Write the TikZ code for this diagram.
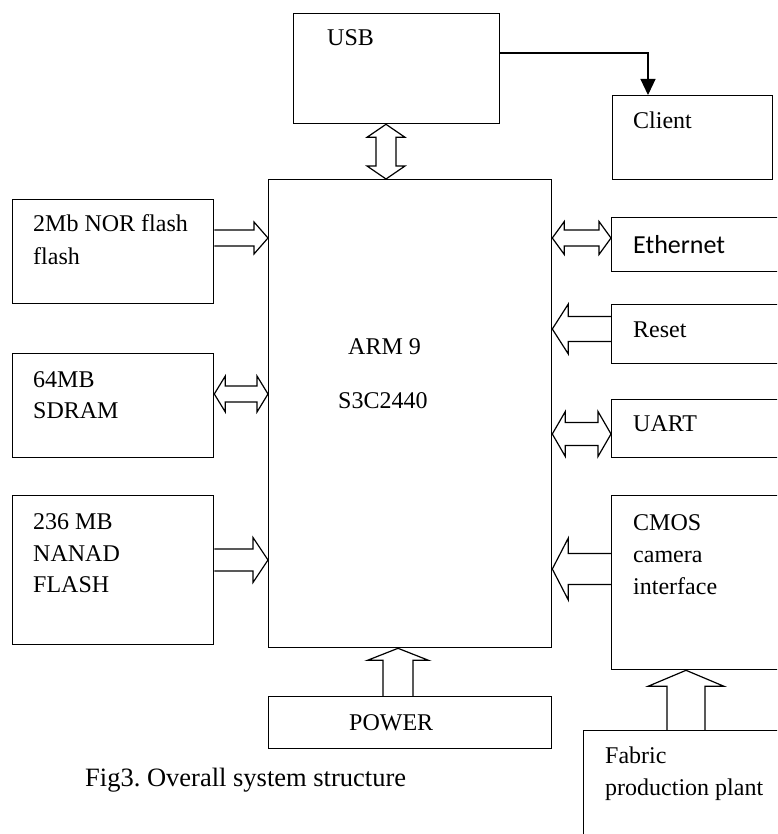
\documentclass[tikz,border=0pt]{standalone}
\usepackage{fontspec}
\setmainfont{Liberation Serif}
\newfontfamily\calib{Carlito}
\usetikzlibrary{calc,arrows.meta}
\frenchspacing
\tikzset{
  box/.style={draw, line width=1.3pt, inner sep=0pt, anchor=north west},
  txt/.style={anchor=base west, inner sep=0pt, font=\fontsize{24}{32}\selectfont},
  blk/.style={draw, line width=1.2pt, line join=miter},
  conn/.style={draw, line width=1.2pt}
}
\newcommand\blkone[5]{%
  \coordinate (hB) at ($(#2)!#5!(#1)$);
  \draw[blk] ($(#1)!#3!90:(#2)$) -- ($(hB)!#3!90:(#2)$) -- ($(hB)!#4!90:(#2)$) -- (#2) -- ($(hB)!#4!-90:(#2)$) -- ($(hB)!#3!-90:(#2)$) -- ($(#1)!#3!-90:(#2)$);
}
\newcommand\blktwo[5]{%
  \coordinate (hA) at ($(#1)!#5!(#2)$);
  \coordinate (hB) at ($(#2)!#5!(#1)$);
  \draw[blk] (#1) -- ($(hA)!#4!90:(#2)$) -- ($(hA)!#3!90:(#2)$) -- ($(hB)!#3!-90:(#1)$) -- ($(hB)!#4!-90:(#1)$) -- (#2) -- ($(hB)!#4!90:(#1)$) -- ($(hB)!#3!90:(#1)$) -- ($(hA)!#3!-90:(#2)$) -- ($(hA)!#4!-90:(#2)$) -- cycle;
}
\begin{document}
\begin{tikzpicture}[x=1pt,y=-1pt]
\clip (0,0) rectangle (777,834);
\fill[white] (0,0) rectangle (777,834);
% boxes
\node[box, minimum width=206pt, minimum height=110pt] (usb) at (293,13) {};
\node[box, minimum width=160pt, minimum height=84pt] (client) at (612,95) {};
\node[box, minimum width=283pt, minimum height=468pt] (arm) at (268,179) {};
\node[box, minimum width=201pt, minimum height=104pt] (nor) at (12,199) {};
\node[box, minimum width=201pt, minimum height=104pt] (sdram) at (12,353) {};
\node[box, minimum width=201pt, minimum height=149pt] (nand) at (12,495) {};
\node[box, minimum width=200pt, minimum height=54pt] (eth) at (611,217) {};
\node[box, minimum width=200pt, minimum height=59pt] (reset) at (611,304) {};
\node[box, minimum width=200pt, minimum height=58pt] (uart) at (611,399) {};
\node[box, minimum width=200pt, minimum height=174pt] (cmos) at (611,495) {};
\node[box, minimum width=220pt, minimum height=130pt] (fabric) at (583,730) {};
\node[box, minimum width=283pt, minimum height=52pt] (power) at (268,696) {};
% texts
\node[txt] (tusb) at (327,46) {USB};
\node[txt] (tclient) at (633,129) {Client};
\node[txt] (tnor1) at (33,232) {2Mb NOR flash};
\node[txt] (tnor2) at (33,264) {flash};
\node[txt] (tsd1) at (33,387) {64MB};
\node[txt] (tsd2) at (33,418) {SDRAM};
\node[txt] (tna1) at (33,529) {236 MB};
\node[txt] (tna2) at (33,561) {NANAD};
\node[txt] (tna3) at (33,592) {FLASH};
\node[txt] (tarm1) at (348,354) {ARM 9};
\node[txt] (tarm2) at (338,408) {S3C2440};
\node[txt, font=\calib\fontsize{26}{32}\selectfont] (teth) at (633,253) {Ethernet};
\node[txt] (treset) at (633,337) {Reset};
\node[txt] (tuart) at (633,431) {UART};
\node[txt] (tcm1) at (633,530) {CMOS};
\node[txt] (tcm2) at (633,562) {camera};
\node[txt] (tcm3) at (633,594) {interface};
\node[txt] (tfa1) at (605,763) {Fabric};
\node[txt] (tfa2) at (605,795) {production plant};
\node[txt] (tpow) at (349,730) {POWER};
\node[txt, font=\fontsize{26.5}{32}\selectfont] (cap) at (85,786) {Fig3. Overall system structure};
% USB -> Client connector
\coordinate (c1) at (usb.east |- 0,53);
\draw[conn, -{Triangle[width=15pt,length=16pt]}] (c1) -| (client.north -| 648,0);
% block arrows
\coordinate (a1) at (usb.south -| 386,0);
\coordinate (b1) at (arm.north -| 386,0);
\blktwo{a1}{b1}{10pt}{19pt}{13pt}
\coordinate (a2) at (nor.east |- 0,238);
\coordinate (b2) at (arm.west |- 0,238);
\blkone{a2}{b2}{8pt}{16pt}{14pt}
\coordinate (a3) at (sdram.east |- 0,394);
\coordinate (b3) at (arm.west |- 0,394);
\blktwo{a3}{b3}{8pt}{18pt}{11pt}
\coordinate (a4) at (nand.east |- 0,560);
\coordinate (b4) at (arm.west |- 0,560);
\blkone{a4}{b4}{11pt}{22.5pt}{15pt}
\coordinate (a5) at (eth.west |- 0,238);
\coordinate (b5) at (arm.east |- 0,238);
\blktwo{a5}{b5}{8pt}{16.5pt}{12pt}
\coordinate (a6) at (reset.west |- 0,329);
\coordinate (b6) at (arm.east |- 0,329);
\blkone{a6}{b6}{12.5pt}{25pt}{16pt}
\coordinate (a7) at (uart.west |- 0,434);
\coordinate (b7) at (arm.east |- 0,434);
\blktwo{a7}{b7}{11.5pt}{22.5pt}{13pt}
\coordinate (a8) at (cmos.west |- 0,569);
\coordinate (b8) at (arm.east |- 0,569);
\blkone{a8}{b8}{15.5pt}{31pt}{16pt}
\coordinate (a9) at (power.north -| 398,0);
\coordinate (b9) at (arm.south -| 398,0);
\blkone{a9}{b9}{15pt}{30.5pt}{12pt}
\coordinate (a10) at (fabric.north -| 686,0);
\coordinate (b10) at (cmos.south -| 686,0);
\blkone{a10}{b10}{19pt}{38pt}{16pt}
\end{tikzpicture}
\end{document}
